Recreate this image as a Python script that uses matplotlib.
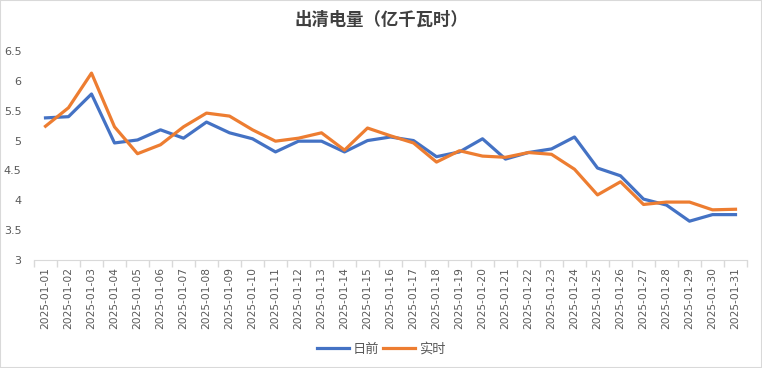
import matplotlib
matplotlib.use("Agg")
import matplotlib.pyplot as plt
from matplotlib.patches import Rectangle

plt.rcParams['font.family'] = ['Noto Sans CJK SC', 'DejaVu Sans']

dates = ["2025-01-%02d" % d for d in range(1, 32)]
day_ahead = [5.38, 5.40, 5.78, 4.96, 5.01, 5.18, 5.04, 5.31, 5.13, 5.03,
             4.81, 4.99, 4.99, 4.81, 5.00, 5.06, 5.00, 4.73, 4.81, 5.03,
             4.69, 4.80, 4.86, 5.06, 4.54, 4.41, 4.02, 3.92, 3.65, 3.76, 3.76]
real_time = [5.24, 5.55, 6.13, 5.23, 4.78, 4.93, 5.23, 5.46, 5.41, 5.18,
             4.99, 5.04, 5.13, 4.84, 5.21, 5.08, 4.96, 4.64, 4.83, 4.74,
             4.72, 4.80, 4.77, 4.52, 4.09, 4.31, 3.93, 3.97, 3.97, 3.84, 3.85]
yticks = [3, 3.5, 4, 4.5, 5, 5.5, 6, 6.5]
ytick_labels = ["3", "3.5", "4", "4.5", "5", "5.5", "6", "6.5"]

BLUE = "#4472C4"
ORANGE = "#ED7D31"
GRAY = "#595959"

W, H = 762, 368
fig = plt.figure(figsize=(W / 100, H / 100), dpi=100)
fig.patches.append(Rectangle((0, 0), 1, 1, transform=fig.transFigure,
                             fill=False, edgecolor="#D9D9D9", lw=1.5))
ax = fig.add_axes([34 / W, (H - 260) / H, 713 / W, 209 / H])

x = list(range(len(dates)))
ax.plot(x, day_ahead, color=BLUE, lw=2.3, label="日前", solid_joinstyle="round")
ax.plot(x, real_time, color=ORANGE, lw=2.3, label="实时", solid_joinstyle="round")

ax.set_xlim(-0.5, len(dates) - 0.5)
ax.set_ylim(3, 6.5)
ax.set_yticks(yticks)
ax.set_yticklabels(ytick_labels, fontsize=8, color=GRAY, family="DejaVu Sans")
ax.tick_params(axis="y", length=0, pad=9)

ax.set_xticks(x)
ax.set_xticklabels(dates, rotation=90, fontsize=7.7, color=GRAY, family="DejaVu Sans")
ax.tick_params(axis="x", which="major", length=0, pad=5)
ax.set_xticks([i - 0.5 for i in range(len(dates) + 1)], minor=True)
ax.tick_params(axis="x", which="minor", length=5, color="#D9D9D9", width=1)

for s in ["top", "right", "left"]:
    ax.spines[s].set_visible(False)
ax.spines["bottom"].set_color("#D9D9D9")

fig.text(0.5, 1 - 20 / H, "出清电量（亿千瓦时）", ha="center", va="center",
         fontsize=12.5, fontweight="bold", color="#404040")

fig.legend(loc="center", bbox_to_anchor=(0.5, 1 - 349 / H), ncol=2, frameon=False,
           fontsize=9.5, handlelength=2.4, columnspacing=0.3, handletextpad=0.3,
           labelcolor=GRAY)

fig.savefig("out.png", dpi=100)
